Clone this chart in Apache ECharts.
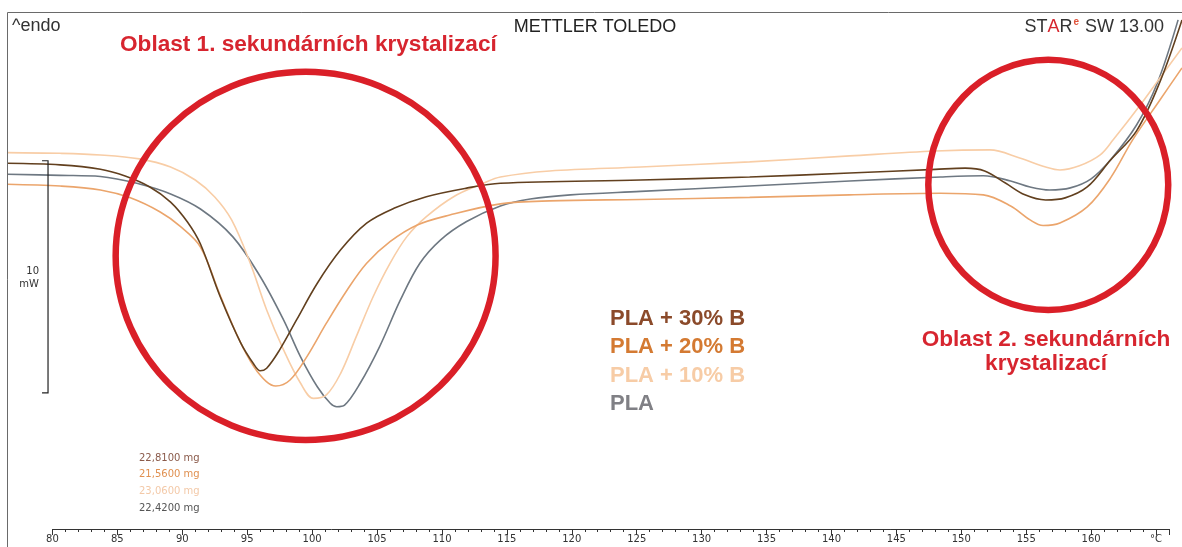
<!DOCTYPE html>
<html>
<head>
<meta charset="utf-8">
<title>DSC – PLA + B</title>
<style>
  html, body { margin: 0; padding: 0; background: #ffffff; }
  #chart { width: 1182px; height: 547px; }
</style>
<script src="https://cdn.jsdelivr.net/npm/echarts@6/dist/echarts.min.js"></script>
</head>
<body>
<div id="chart"></div>
<script>
// DSC heating curves: temperature (°C) vs. heat flow (mW, endo up)
const pla30 = [[76.5,15.76],[80.6,15.69],[83.7,15.50],[85.6,15.21],[87.5,14.74],[89.1,14.09],[90.4,13.23],[91.4,12.28],[92.9,10.04],[94.5,8.02],[95.5,7.11],[96.0,6.82],[96.5,6.93],[97.5,7.72],[98.8,9.01],[100.4,10.59],[102.2,12.03],[104.2,13.18],[106.3,13.82],[108.8,14.32],[111.9,14.69],[114.5,14.90],[125.3,15.04],[133.7,15.17],[141.4,15.34],[148.0,15.50],[150.3,15.55],[151.8,15.43],[153.4,14.91],[154.9,14.40],[156.5,14.18],[158.0,14.27],[159.7,14.74],[161.5,15.90],[163.5,17.16],[165.3,19.27],[167.0,21.94]];
const pla20 = [[76.5,14.86],[80.6,14.78],[83.7,14.61],[86.0,14.27],[88.3,13.66],[89.8,13.06],[91.4,12.15],[92.9,10.09],[94.5,8.02],[95.8,6.77],[97.2,6.16],[98.3,6.42],[99.6,7.43],[101.1,8.87],[102.7,10.30],[104.2,11.45],[106.0,12.38],[108.1,13.10],[110.6,13.53],[114.5,14.01],[118.3,14.14],[125.3,14.20],[133.7,14.29],[141.4,14.40],[148.4,14.47],[151.7,14.40],[153.8,13.92],[155.3,13.32],[156.3,13.08],[157.6,13.19],[159.7,13.88],[161.5,15.13],[163.2,16.77],[165.3,18.49],[167.0,19.87]];
const pla10 = [[76.5,16.22],[80.6,16.19],[83.7,16.12],[86.7,15.95],[89.1,15.60],[91.0,15.04],[92.5,14.31],[93.8,13.32],[95.2,11.51],[96.5,9.44],[97.8,7.72],[99.1,6.29],[100.1,5.63],[101.1,5.78],[102.2,6.71],[103.4,8.29],[104.7,10.01],[106.0,11.45],[107.3,12.60],[108.8,13.46],[110.9,14.32],[113.2,14.90],[114.5,15.17],[118.3,15.43],[125.3,15.60],[133.7,15.82],[141.4,16.08],[148.0,16.29],[152.2,16.34],[154.5,15.99],[156.5,15.60],[157.6,15.47],[159.1,15.65],[160.7,16.12],[161.7,16.77],[163.8,18.28],[165.3,19.44],[167.0,20.73]];
const pla0 = [[76.5,15.29],[80.6,15.24],[83.7,15.19],[86.7,14.87],[89.1,14.44],[91.4,13.79],[93.9,12.59],[96.0,10.88],[97.8,9.01],[99.1,7.43],[100.4,6.13],[101.4,5.42],[101.9,5.27],[102.5,5.34],[103.7,6.28],[105.2,7.86],[106.8,9.87],[108.3,11.45],[109.9,12.46],[111.9,13.25],[114.5,13.92],[116.8,14.22],[119.9,14.40],[125.3,14.55],[133.7,14.78],[141.4,15.00],[148.4,15.17],[151.7,15.22],[153.8,15.00],[155.3,14.74],[156.8,14.61],[158.4,14.70],[160.0,15.09],[161.5,15.91],[163.5,17.41],[165.1,19.22],[166.7,21.94]];

const sampleNames = ['PLA + 30% B', 'PLA + 20% B', 'PLA + 10% B', 'PLA'];
const sampleMasses = ['22,8100 mg', '21,5600 mg', '23,0600 mg', '22,4200 mg'];
const regionTitles = ['Oblast 1. sekundárních krystalizací', 'Oblast 2. sekundárních', 'krystalizací'];
// annotated regions: centre [°C, mW] and half-axes [°C, mW]
const region1 = { center: [99.5, 11.77], radius: [14.63, 7.93] };
const region2 = { center: [156.7, 14.83], radius: [9.24, 5.39] };
// 10 mW scale bar: position [°C, mW of top end], length in mW
const scaleBar = { at: [79.66, 15.87], length: 10 };

const curves = [pla30, pla20, pla10, pla0];
const lineColors = ['#62401F', '#EBA56C', '#F8CDA6', '#6E7882'];
const legendColors = ['#8B4A2A', '#D47A32', '#F7CCA6', '#808085'];
const massColors = ['#8A5A4A', '#E09050', '#F3C9A8', '#555555'];

const X_MIN = 76.5, X_MAX = 167, Y_MAX = 22.28;
const W = 1182, PLOT_LEFT = 7, TOP = 12, BOTTOM = 18;
const pxPerDeg = (W - PLOT_LEFT) / (X_MAX - X_MIN);
const axisLeft = PLOT_LEFT + (80 - X_MIN) * pxPerDeg;
const axisWidth = (166 - 80) * pxPerDeg;

const chart = echarts.init(document.getElementById('chart'), null, { renderer: 'canvas' });

const FONT = '"Liberation Sans", Arial, sans-serif';
const SMALL = '"DejaVu Sans", Verdana, sans-serif';

chart.setOption({
  animation: false,
  backgroundColor: '#ffffff',
  grid: [
    { left: PLOT_LEFT, right: 0, top: TOP, bottom: BOTTOM, containLabel: false },
    { left: axisLeft, width: axisWidth, top: TOP, bottom: BOTTOM, containLabel: false }
  ],
  xAxis: [
    { type: 'value', gridIndex: 0, min: X_MIN, max: X_MAX, show: false },
    {
      type: 'value', gridIndex: 1, min: 80, max: 166, interval: 5,
      axisLine: { show: true, onZero: false, lineStyle: { color: '#333', width: 1 } },
      axisTick: { show: true, length: 6, lineStyle: { color: '#333', width: 1 } },
      minorTick: { show: true, splitNumber: 5, length: 3, lineStyle: { color: '#333', width: 1 } },
      splitLine: { show: false },
      axisLabel: {
        show: true, margin: 5, color: '#333', fontFamily: SMALL, fontSize: 10,
        formatter: v => (v === 165 ? '°C' : (v % 5 === 0 ? String(v) : ''))
      }
    }
  ],
  yAxis: [
    { type: 'value', gridIndex: 0, min: 0, max: Y_MAX, show: false },
    { type: 'value', gridIndex: 1, min: 0, max: Y_MAX, show: false }
  ],
  // drawn back to front: PLA, 10 %, 20 %, 30 %
  series: [3, 2, 1, 0].map(i => ({
    name: sampleNames[i],
    type: 'line',
    xAxisIndex: 0, yAxisIndex: 0,
    data: curves[i],
    showSymbol: false,
    smooth: 0.35,
    clip: true,
    silent: true,
    lineStyle: { color: lineColors[i], width: 1.6 }
  }))
});

// annotations placed through the data grid's scales
const toPx = p => chart.convertToPixel({ gridIndex: 0 }, p);
function ellipseFor(r) {
  const c = toPx(r.center);
  const e = toPx([r.center[0] + r.radius[0], r.center[1] + r.radius[1]]);
  return { cx: c[0], cy: c[1], rx: Math.abs(e[0] - c[0]), ry: Math.abs(c[1] - e[1]) };
}
const sbTop = toPx(scaleBar.at);
const sbBot = toPx([scaleBar.at[0], scaleBar.at[1] - scaleBar.length]);

const RED = '#D7252F';
const graphics = [
  // frame
  { type: 'polyline', z: 5, shape: { points: [[7.5, 547], [7.5, 12.5], [W, 12.5]] }, style: { stroke: '#6a6a6a', lineWidth: 1, fill: null } },
  // header texts
  { type: 'text', z: 6, x: 12, y: 26, style: { text: '^endo', font: '18px ' + FONT, fill: '#333', verticalAlign: 'middle' } },
  { type: 'text', z: 6, x: 595, y: 27, style: { text: 'METTLER TOLEDO', font: '18px ' + FONT, fill: '#222', align: 'center', verticalAlign: 'middle' } },
  { type: 'text', z: 6, x: 1164, y: 27, style: {
      text: '{d|ST}{r|A}{d|R}{s|e}{d| SW 13.00}', align: 'right', verticalAlign: 'middle',
      rich: {
        d: { font: '18px ' + FONT, fill: '#333' },
        r: { font: '18px ' + FONT, fill: '#D6262E' },
        s: { font: 'bold 10px ' + FONT, fill: '#E0523A', verticalAlign: 'top', padding: [0, 1, 9, 1] }
      } } },
  // scale bar
  { type: 'polyline', z: 6, shape: { points: [[sbTop[0] - 6, sbTop[1]], [sbTop[0], sbTop[1]], [sbBot[0], sbBot[1]], [sbBot[0] - 6, sbBot[1]]] }, style: { stroke: '#222', lineWidth: 1.2, fill: null } },
  { type: 'text', z: 6, x: 39, y: (sbTop[1] + sbBot[1]) / 2 - 12, style: { text: '10\nmW', font: '10px ' + SMALL, fill: '#333', align: 'right', lineHeight: 13 } },
  // region labels
  { type: 'text', z: 7, x: 120, y: 45, style: { text: regionTitles[0], font: 'bold 22.6px ' + FONT, fill: RED, verticalAlign: 'middle' } },
  { type: 'text', z: 7, x: 1046, y: 340, style: { text: regionTitles[1], font: 'bold 22.6px ' + FONT, fill: RED, align: 'center', verticalAlign: 'middle' } },
  { type: 'text', z: 7, x: 1046, y: 364, style: { text: regionTitles[2], font: 'bold 22.6px ' + FONT, fill: RED, align: 'center', verticalAlign: 'middle' } },
  // region outlines
  { type: 'ellipse', z: 8, shape: ellipseFor(region1), style: { stroke: '#DA1F28', lineWidth: 6.5, fill: null } },
  { type: 'ellipse', z: 8, shape: ellipseFor(region2), style: { stroke: '#DA1F28', lineWidth: 6.5, fill: null } }
];

sampleNames.forEach((name, i) => {
  graphics.push({ type: 'text', z: 6, x: 610, y: 319 + i * 28.3, style: { text: name, font: 'bold 22px ' + FONT, fill: legendColors[i], verticalAlign: 'middle' } });
  graphics.push({ type: 'text', z: 6, x: 139, y: 458 + i * 16.8, style: { text: sampleMasses[i], font: '10px ' + SMALL, fill: massColors[i], verticalAlign: 'middle' } });
});

chart.setOption({ graphic: graphics });
</script>
</body>
</html>
